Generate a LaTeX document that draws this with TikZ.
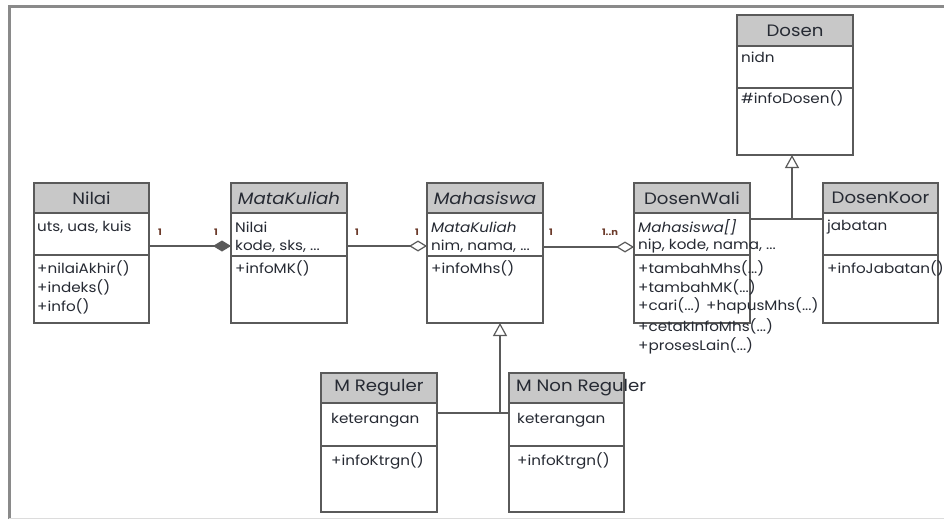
\documentclass[tikz,border=0pt]{standalone}
\usepackage{fontspec}
\setmainfont{Poppins}[FakeStretch=1.1]
\usetikzlibrary{arrows.meta,calc}
\definecolor{hdr}{HTML}{C8C8C8}
\definecolor{edgec}{HTML}{5A5A5A}
\definecolor{txt}{HTML}{262A33}
\definecolor{multc}{HTML}{6B3A2A}
\definecolor{framec}{HTML}{8A8A8A}
\newcommand\umlbox[7]{%
  \fill[hdr] (#2,#3) rectangle ++(#4,#6);
  \node[classbox, minimum width=#4pt, minimum height=#5pt, anchor=north west] (#1) at (#2,#3) {};
  \draw[edgec, line width=1.3pt] (#2,#3+#6) -- ++(#4,0);
  \draw[edgec, line width=1.3pt] (#2,#3+#7) -- ++(#4,0);
}
\begin{document}
\begin{tikzpicture}[x=1pt,y=-1pt,
  classbox/.style={draw=edgec, line width=1.3pt, inner sep=0pt, outer sep=0pt},
  title/.style={text=txt, font=\fontsize{16.5}{18}\selectfont, inner sep=0pt},
  mem/.style={text=txt, font=\fontsize{13.8}{15}\selectfont, anchor=west, inner sep=0pt},
  mult/.style={text=multc, font=\fontsize{9}{10}\selectfont\bfseries, inner sep=0pt},
  conn/.style={edgec, line width=1.2pt},
  agg/.style={conn, -{Diamond[open, length=18pt, width=11pt, line width=1.2pt]}},
  comp/.style={conn, -{Diamond[length=18pt, width=11pt]}},
  gen/.style={conn, -{Triangle[open, length=13pt, width=14pt, line width=1.2pt]}}]
\useasboundingbox (0,0) rectangle (944,519);
\fill[white] (0,0) rectangle (944,519);
% frame
\draw[framec, line width=3pt] (9,519) -- (9,7) -- (944,7);
\draw[framec!30, line width=0.8pt] (9,518) -- (944,518);

% classes
\umlbox{nilai}{34}{183}{115}{140}{30}{72}
\node[title] (nilai-t) at (91.5,198) {Nilai};
\node[mem] (nilai-a1) at (37,227) {uts, uas, kuis};
\node[mem] (nilai-m1) at (37,268) {+nilaiAkhir()};
\node[mem] (nilai-m2) at (37,287) {+indeks()};
\node[mem] (nilai-m3) at (37,306) {+info()};

\umlbox{mk}{231}{183}{116}{140}{30}{73}
\node[title] (mk-t) at (289,198) {\itshape MataKuliah};
\node[mem] (mk-a1) at (235,227) {Nilai};
\node[mem] (mk-a2) at (235,246) {kode, sks, ...};
\node[mem] (mk-m1) at (235,268) {+infoMK()};

\umlbox{mhs}{427}{183}{116}{140}{30}{73}
\node[title] (mhs-t) at (485,198) {\itshape Mahasiswa};
\node[mem] (mhs-a1) at (431,227) {\itshape MataKuliah};
\node[mem] (mhs-a2) at (431,246) {nim, nama, ...};
\node[mem] (mhs-m1) at (431,268) {+infoMhs()};

\umlbox{dw}{634}{183}{116}{140}{30}{72}
\node[title] (dw-t) at (692,198) {DosenWali};
\node[mem] (dw-a1) at (638,227) {\itshape Mahasiswa[]};
\node[mem] (dw-a2) at (638,246) {nip, kode, nama, ...};
\node[mem] (dw-m1) at (638,268) {+tambahMhs(...)};
\node[mem] (dw-m2) at (638,287) {+tambahMK(...)};
\node[mem] (dw-m3) at (638,306) {+cari(...) +hapusMhs(...)};
\node[mem] (dw-m4) at (638,326) {+cetakInfoMhs(...)};
\node[mem] (dw-m5) at (638,346) {+prosesLain(...)};

\umlbox{dk}{823}{183}{115}{140}{30}{72}
\node[title] (dk-t) at (880.5,198) {DosenKoor};
\node[mem] (dk-a1) at (827,227) {jabatan};
\node[mem] (dk-m1) at (827,268) {+infoJabatan()};

\umlbox{dosen}{737}{15}{116}{140}{31}{73}
\node[title] (dosen-t) at (795,31) {Dosen};
\node[mem] (dosen-a1) at (741,57) {nidn};
\node[mem] (dosen-m1) at (741,98) {\#infoDosen()};

\umlbox{mreg}{321}{373}{116}{139}{30}{73}
\node[title] (mreg-t) at (379,388) {M Reguler};
\node[mem] (mreg-a1) at (331,420) {keterangan};
\node[mem] (mreg-m1) at (331,461) {+infoKtrgn()};

\umlbox{mnon}{509}{373}{115}{139}{30}{73}
\node[title, anchor=west] (mnon-t) at (516,388) {M Non Reguler};
\node[mem] (mnon-a1) at (517,420) {keterangan};
\node[mem] (mnon-m1) at (517,461) {+infoKtrgn()};

% associations
\draw[comp] ($(nilai.north east)+(0,63)$) -- ($(mk.north west)+(0,63)$);
\draw[agg] ($(mk.north east)+(0,63)$) -- ($(mhs.north west)+(0,63)$);
\draw[agg] ($(mhs.north east)+(0,64)$) -- ($(dw.north west)+(0,64)$);
\node[mult] (m1) at (160,232) {1};
\node[mult] (m2) at (216,232) {1};
\node[mult] (m3) at (357,232) {1};
\node[mult] (m4) at (417,232) {1};
\node[mult] (m5) at (551,232) {1};
\node[mult] (m6) at (610,232) {1..n};

% generalizations
\coordinate (jm) at (500,413);
\draw[conn] ($(mreg.north east)+(0,40)$) -- (jm);
\draw[conn] ($(mnon.north west)+(0,40)$) -- (jm);
\draw[gen] (jm) -- (jm |- mhs.south);
\coordinate (jd) at (792,219);
\draw[conn] ($(dw.north east)+(0,36)$) -- (jd);
\draw[conn] ($(dk.north west)+(0,36)$) -- (jd);
\draw[gen] (jd) -- (jd |- dosen.south);
\end{tikzpicture}
\end{document}
